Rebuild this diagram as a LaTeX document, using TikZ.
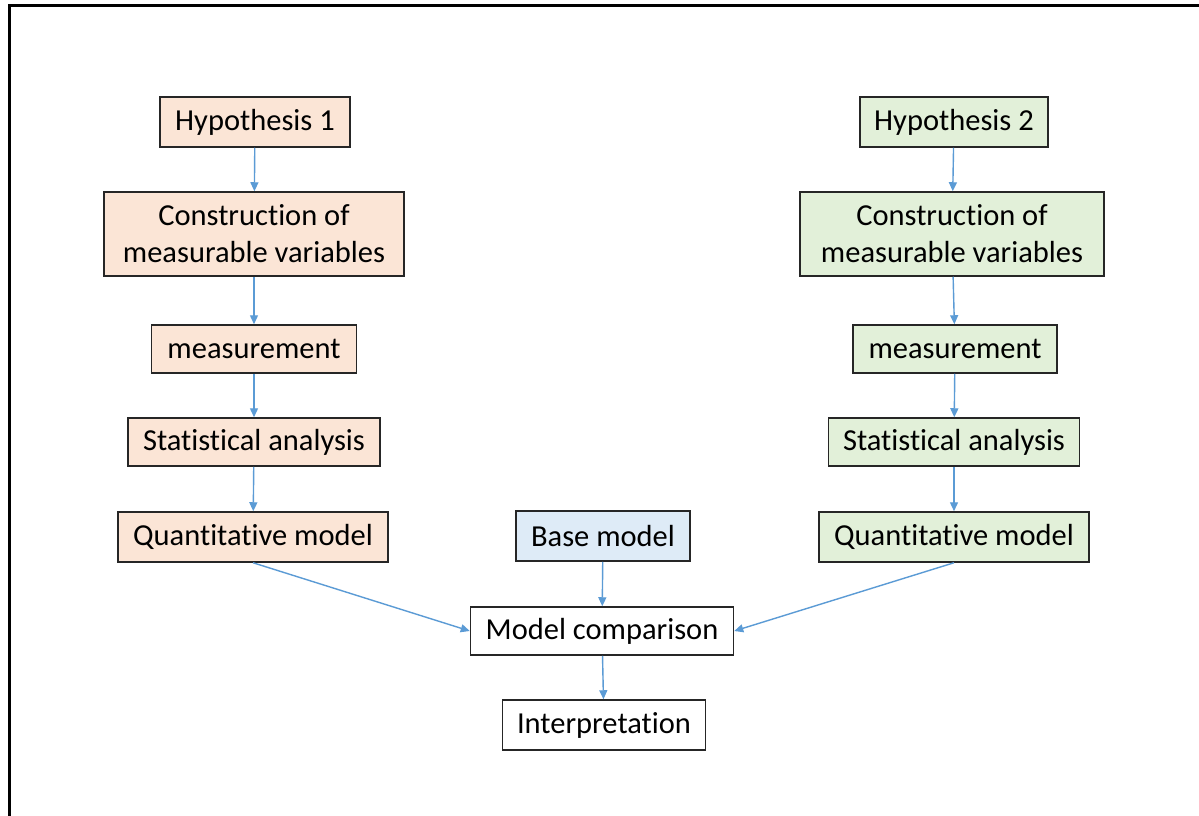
\documentclass[tikz,border=0pt]{standalone}
\usepackage{fontspec}
\setmainfont{Carlito}[Ligatures=NoCommon]
\usetikzlibrary{arrows.meta}
\definecolor{orangefill}{HTML}{FBE5D6}
\definecolor{greenfill}{HTML}{E2F0D9}
\definecolor{bluefill}{HTML}{DEEBF7}
\definecolor{arrowblue}{HTML}{5B9BD5}
\definecolor{boxline}{HTML}{262626}
\tikzset{
  box/.style={draw=boxline, line width=1.5pt, inner sep=0pt, align=center,
    font=\fontsize{30.5}{37}\selectfont},
  obox/.style={box, fill=orangefill},
  gbox/.style={box, fill=greenfill},
  bbox/.style={box, fill=bluefill},
  wbox/.style={box, fill=white},
  conn/.style={draw=arrowblue, line width=1.4pt, -{Triangle[length=9pt,width=8pt]}},
}
\begin{document}
\begin{tikzpicture}[x=1pt,y=-1pt]
\useasboundingbox (0,0) rectangle (1199,816);
\fill[white] (0,0) rectangle (1199,816);
\draw[line width=3pt, black] (9,816) -- (9,6) -- (1199,6);
% left column
\node[obox, minimum width=190pt, minimum height=50pt] (h1) at (255,122) {Hypothesis 1};
\node[obox, minimum width=300pt, minimum height=84pt] (c1) at (254,234) {Construction of\\measurable variables};
\node[obox, minimum width=205pt, minimum height=48pt] (m1) at (254,349) {measurement};
\node[obox, minimum width=252pt, minimum height=48pt] (s1) at (254,442) {Statistical analysis};
\node[obox, minimum width=270pt, minimum height=50pt] (q1) at (253,537) {Quantitative model};
% right column
\node[gbox, minimum width=188pt, minimum height=50pt] (h2) at (954,122) {Hypothesis 2};
\node[gbox, minimum width=304pt, minimum height=84pt] (c2) at (952,234) {Construction of\\measurable variables};
\node[gbox, minimum width=204pt, minimum height=48pt] (m2) at (955,349) {measurement};
\node[gbox, minimum width=251pt, minimum height=48pt] (s2) at (954,442) {Statistical analysis};
\node[gbox, minimum width=270pt, minimum height=50pt] (q2) at (954,537) {Quantitative model};
% middle
\node[bbox, minimum width=174pt, minimum height=50pt] (base) at (603,536) {Base model};
\node[wbox, minimum width=263pt, minimum height=48pt] (mc) at (602,631) {Model comparison};
\node[wbox, minimum width=203pt, minimum height=50pt] (int) at (604,725) {Interpretation};
% connectors
\draw[conn] (h1) -- (c1);
\draw[conn] (c1) -- (m1);
\draw[conn] (m1) -- (s1);
\draw[conn] (s1) -- (q1);
\draw[conn] (h2) -- (c2);
\draw[conn] (c2) -- (m2);
\draw[conn] (m2) -- (s2);
\draw[conn] (s2) -- (q2);
\draw[conn] (base) -- (mc);
\draw[conn] (mc) -- (int);
\draw[conn] (q1.south) -- (mc.west);
\draw[conn] (q2.south) -- (mc.east);
\end{tikzpicture}
\end{document}
